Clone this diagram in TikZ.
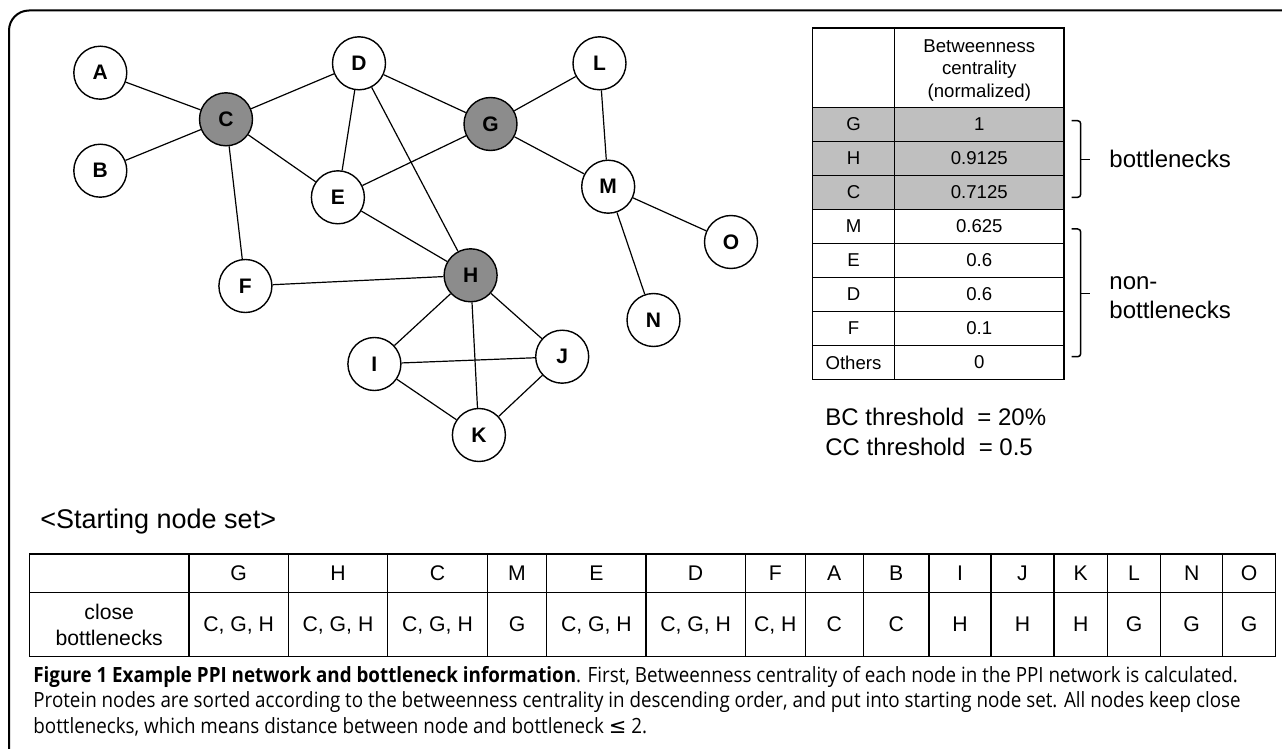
\documentclass[tikz,border=0pt]{standalone}
\usepackage{fontspec}
\setmainfont{Liberation Sans}
\newfontfamily\capfont[FakeStretch=0.895]{Open Sans}
\newfontfamily\symfont{DejaVu Sans}
\usepackage{xcolor}
\usepackage{tikz}
\usetikzlibrary{calc}

\begin{document}
\begin{tikzpicture}[x=0.5pt, y=-0.5pt,
  prot/.style={draw, circle, line width=0.7pt, minimum size=26.5pt, inner sep=0pt, font=\fontsize{10.5}{12}\selectfont\bfseries},
  hub/.style={fill=black!45},
  link/.style={line width=0.6pt},
  grid/.style={line width=0.75pt},
  cell/.style={font=\fontsize{9.3}{11.2}\selectfont, align=center, inner sep=0pt, text depth=0pt},
  scell/.style={font=\fontsize{10.6}{13.3}\selectfont, align=center, inner sep=0pt, text depth=0pt},
  side/.style={font=\fontsize{12}{14.5}\selectfont, align=left, anchor=west, inner sep=0pt},
  capline/.style={anchor=base west, inner sep=0pt, font=\capfont\fontsize{10.5}{12.9}\selectfont}]

\useasboundingbox (0,0) rectangle (1282,749);
\draw[line width=1pt, rounded corners=10pt] (9,749) -- (9,10.5) -- (1282,10.5);

% PPI network
\node[prot] (A) at (100.3,72.7) {A};
\node[prot] (B) at (100.3,170.7) {B};
\node[prot, hub] (C) at (226,119.3) {C};
\node[prot] (D) at (359,63.3) {D};
\node[prot] (E) at (337.9,197.3) {E};
\node[prot] (F) at (245.4,286) {F};
\node[prot, hub] (G) at (490.5,124) {G};
\node[prot, hub] (H) at (470.6,275.3) {H};
\node[prot] (I) at (374.4,364) {I};
\node[prot] (J) at (562.2,356.7) {J};
\node[prot] (K) at (478.9,435) {K};
\node[prot] (L) at (599.5,63.3) {L};
\node[prot] (M) at (608.2,186.7) {M};
\node[prot] (N) at (653.5,320) {N};
\node[prot] (O) at (731,242) {O};

\foreach \a/\b in {A/C, B/C, C/D, C/E, C/F, D/E, D/G, D/H, G/E, G/L, G/M, L/M, M/O, M/N, E/H, F/H, H/I, H/J, H/K, I/J, I/K, J/K}
  \draw[link] (\a) -- (\b);

% betweenness table
\fill[black!25] (812.3,107.3) rectangle (1064,209.3);
\draw[grid] (812.3,28) rectangle (1064,379.3);
\draw[grid] (894.7,28) -- (894.7,379.3);
\foreach \k in {0,...,7}
  \draw[grid] (812.3,{107.3+34*\k}) -- (1064,{107.3+34*\k});
\node[cell] (bchead) at (979.3,68.3) {Betweenness\\centrality\\(normalized)};
\foreach \n/\v [count=\i from 0] in {G/1, H/0.9125, C/0.7125, M/0.625, E/0.6, D/0.6, F/0.1, Others/0} {
  \node[cell] (bcname-\i) at (853.5,{124.3+34*\i}) {\n};
  \node[cell] (bcval-\i) at (979.3,{124.3+34*\i}) {\v};
}

% brackets
\draw[grid, rounded corners=1.5pt] (1071.7,120.7) -- (1080.7,120.7) -- (1080.7,197.3) -- (1071.7,197.3);
\draw[grid] (1080.7,159.3) -- (1090,159.3);
\draw[grid, rounded corners=1.5pt] (1071.7,229) -- (1080.7,229) -- (1080.7,356.7) -- (1071.7,356.7);
\draw[grid] (1080.7,293.3) -- (1090,293.3);
\node[side] (bnlabel) at (1109,159.3) {bottlenecks};
\node[side] (nonbnlabel) at (1109,297.5) {non-\\bottlenecks};

\node[side, font=\fontsize{12}{15}\selectfont] (thr) at (825,431.7) {BC threshold\ \ = 20\%\\CC threshold\ \ = 0.5};

% starting node set
\node[side, font=\fontsize{13.5}{16}\selectfont] (startlbl) at (40,521.7) {<Starting node set>};
\draw[grid] (29.3,554) rectangle (1275.7,656.7);
\draw[grid] (29.3,592.3) -- (1275.7,592.3);
\node[scell] (cbhead) at (109.2,625) {close\\bottlenecks};
\foreach \xa/\xb/\hd/\cb in {189/288.3/G/{C, G, H}, 288.3/387.7/H/{C, G, H}, 387.7/487.3/C/{C, G, H}, 487.3/546.7/M/G, 546.7/646/E/{C, G, H}, 646/745.3/D/{C, G, H}, 745.3/805.3/F/{C, H}, 805.3/863.3/A/C, 863.3/929/B/C, 929/991/I/H, 991/1054/J/H, 1054/1107.3/K/H, 1107.3/1160.7/L/G, 1160.7/1222.7/N/G, 1222.7/1275.7/O/G} {
  \draw[grid] (\xa,554) -- (\xa,656.7);
  \node[scell] (hd-\hd) at ({(\xa+\xb)/2},573.2) {\hd};
  \node[scell] (cb-\hd) at ({(\xa+\xb)/2},624.5) {\cb};
}

% caption
\node[capline] (cap1) at (33,682.5) {\textbf{Figure 1 Example PPI network and bottleneck information}. First, Betweenness centrality of each node in the PPI network is calculated.};
\node[capline] (cap2) at (33,707.5) {Protein nodes are sorted according to the betweenness centrality in descending order, and put into starting node set. All nodes keep close};
\node[capline] (cap3) at (33,733) {bottlenecks, which means distance between node and bottleneck {\symfont ≤} 2.};
\end{tikzpicture}
\end{document}
